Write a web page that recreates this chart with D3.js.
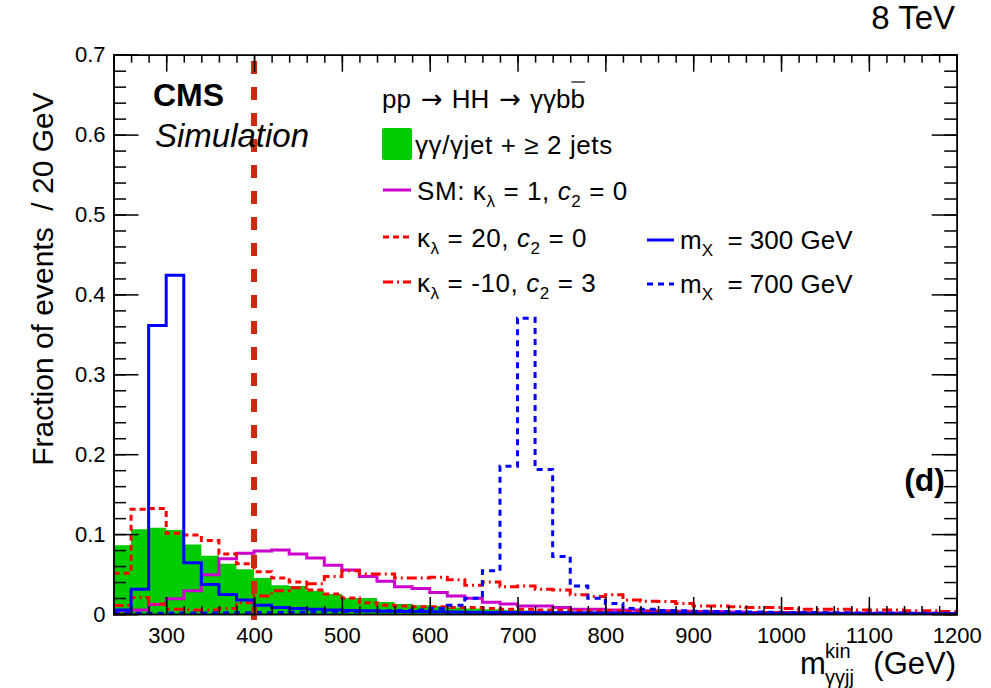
<!DOCTYPE html>
<html lang="en">
<head>
<meta charset="utf-8">
<style type="text/css">
  body { margin: 0; background: #fff; }
  svg text { font-family: "Liberation Sans", Arial, sans-serif; }
  .axis path, .axis line { stroke: #000; stroke-width: 1.5px; }
  .axis text { font-size: 22px; fill: #000; }
  .hist { fill: none; stroke-width: 3px; }
</style>
</head>
<body>
<svg width="991" height="688"></svg>

<script src="https://d3js.org/d3.v7.min.js"></script>
<script type="text/javascript">
// bins of 20 GeV from 240 to 1200
var binLow = d3.range(240, 1200, 20);

var bkg = [0.086, 0.106, 0.108, 0.105, 0.087, 0.073, 0.063, 0.056, 0.045, 0.036,
  0.035, 0.029, 0.025, 0.020, 0.020, 0.015, 0.0125, 0.011, 0.010, 0.008,
  0.007, 0.006, 0.005, 0.0045, 0.004, 0.0035, 0.003, 0.003, 0.0025, 0.002,
  0.002, 0.0018, 0.0015, 0.0014, 0.0012, 0.001, 0.001, 0.0009, 0.0008, 0.0007,
  0.0006, 0.0006, 0.0005, 0.0005, 0.0004, 0.0004, 0.0003, 0.0003];

var sm = [0.004, 0.005, 0.012, 0.019, 0.029, 0.049, 0.069, 0.076, 0.079, 0.080,
  0.075, 0.070, 0.061, 0.055, 0.047, 0.041, 0.034, 0.032, 0.027, 0.0225,
  0.0196, 0.0146, 0.0125, 0.010, 0.010, 0.008, 0.006, 0.006, 0.005, 0.005,
  0.004, 0.004, 0.0035, 0.003, 0.003, 0.0025, 0.002, 0.002, 0.0015, 0.0015,
  0.0012, 0.001, 0.001, 0.0008, 0.0008, 0.0006, 0.0006, 0.0005];

var kl20 = [0.051, 0.131, 0.132, 0.101, 0.099, 0.092, 0.075, 0.063, 0.053, 0.045,
  0.040, 0.030, 0.025, 0.020, 0.014, 0.011, 0.010, 0.009, 0.009, 0.008,
  0.008, 0.007, 0.006, 0.006, 0.005, 0.005, 0.004, 0.004, 0.004, 0.003,
  0.003, 0.003, 0.0025, 0.0025, 0.002, 0.002, 0.002, 0.0018, 0.0015, 0.0015,
  0.0012, 0.0012, 0.001, 0.001, 0.001, 0.0008, 0.0008, 0.0006];

var klm10 = [0.0105, 0.0205, 0.0125, 0.006, 0.005, 0.005, 0.007, 0.014, 0.0225, 0.029,
  0.033, 0.038, 0.047, 0.054, 0.050, 0.050, 0.045, 0.045, 0.046, 0.043,
  0.036, 0.040, 0.034, 0.035, 0.031, 0.030, 0.024, 0.022, 0.024, 0.0175,
  0.016, 0.0155, 0.013, 0.010, 0.010, 0.009, 0.008, 0.008, 0.007, 0.006,
  0.006, 0.006, 0.005, 0.005, 0.005, 0.004, 0.004, 0.003];

var mx300 = [0.005, 0.031, 0.361, 0.424, 0.064, 0.037, 0.0245, 0.0175, 0.011, 0.008,
  0.007, 0.006, 0.005, 0.0045, 0.004, 0.0035, 0.003, 0.003, 0.0028, 0.0025,
  0.0022, 0.002, 0.002, 0.0018, 0.0016, 0.0015, 0.0014, 0.0012, 0.0012, 0.001,
  0.001, 0.0009, 0.0009, 0.0008, 0.0008, 0.0007, 0.0007, 0.0006, 0.0006, 0.0005,
  0.0005, 0.0005, 0.0004, 0.0004, 0.0004, 0.0003, 0.0003, 0.0003];

var mx700 = [0.001, 0.001, 0.001, 0.0012, 0.0012, 0.0014, 0.0015, 0.0016, 0.0018, 0.002,
  0.0022, 0.0025, 0.0028, 0.003, 0.0035, 0.004, 0.0045, 0.005, 0.007, 0.011,
  0.0196, 0.054, 0.185, 0.370, 0.181, 0.072, 0.035, 0.0196, 0.013, 0.007,
  0.006, 0.0045, 0.004, 0.0035, 0.003, 0.0028, 0.0025, 0.0022, 0.002, 0.0018,
  0.0016, 0.0015, 0.0014, 0.0012, 0.0012, 0.001, 0.001, 0.0009];

var xMajor = d3.range(300, 1201, 100);
var yMajor = [0, 0.1, 0.2, 0.3, 0.4, 0.5, 0.6, 0.7];
var cutValue = 400;

var svg = d3.select("svg");
var pLeft = 113.5, pRight = 956.7, pTop = 54.7, pBottom = 614;

var x = d3.scaleLinear().domain([240, 1200]).range([pLeft, pRight]);
var y = d3.scaleLinear().domain([0, 0.7]).range([pBottom, pTop]);

svg.append("clipPath").attr("id", "plot")
  .append("rect").attr("x", pLeft).attr("y", pTop)
  .attr("width", pRight - pLeft).attr("height", pBottom - pTop);

function steps(vals) {
  var pts = vals.map(function(v, i) { return [binLow[i], v]; });
  pts.push([1200, vals[vals.length - 1]]);
  return pts;
}

var line = d3.line().curve(d3.curveStepAfter)
  .x(function(d) { return x(d[0]); })
  .y(function(d) { return y(d[1]); });

var area = d3.area().curve(d3.curveStepAfter)
  .x(function(d) { return x(d[0]); })
  .y0(y(0))
  .y1(function(d) { return y(d[1]); });

var g = svg.append("g").attr("clip-path", "url(#plot)");

g.append("path").attr("d", area(steps(bkg))).attr("fill", "#00cc00");

var series = [
  { vals: sm, color: "#cc00cc", dash: null },
  { vals: kl20, color: "#ff0000", dash: "6,4" },
  { vals: klm10, color: "#ff0000", dash: "10,4,2,4" },
  { vals: mx300, color: "#0000ff", dash: null },
  { vals: mx700, color: "#0000ff", dash: "6,5" }
];

series.forEach(function(s) {
  g.append("path").attr("class", "hist")
    .attr("d", line(steps(s.vals)))
    .attr("stroke", s.color)
    .attr("stroke-dasharray", s.dash);
});

// cut line at 400 GeV
svg.append("line")
  .attr("x1", x(cutValue)).attr("x2", x(cutValue))
  .attr("y1", pBottom + 6).attr("y2", pTop)
  .attr("stroke", "#cc2a10").attr("stroke-width", 6)
  .attr("stroke-dasharray", "13,13");

// axes, ROOT style: ticks inside on all four sides
var xMinor = d3.range(240, 1201, 20);
var yMinor = d3.range(0, 0.7001, 0.02);

function ax(el) {
  el.attr("font-family", null).attr("font-size", null);
}

svg.append("g").attr("class", "axis").attr("transform", "translate(0," + pBottom + ")")
  .call(d3.axisBottom(x).tickValues(xMinor).tickSize(-8).tickFormat("")).call(ax);
svg.append("g").attr("class", "axis").attr("transform", "translate(0," + pBottom + ")")
  .call(d3.axisBottom(x).tickValues(xMajor).tickSize(-17).tickPadding(13).tickFormat(d3.format("d"))).call(ax);
svg.append("g").attr("class", "axis").attr("transform", "translate(0," + pTop + ")")
  .call(d3.axisTop(x).tickValues(xMinor).tickSize(-8).tickFormat("")).call(ax);
svg.append("g").attr("class", "axis").attr("transform", "translate(0," + pTop + ")")
  .call(d3.axisTop(x).tickValues(xMajor).tickSize(-17).tickFormat("")).call(ax);

svg.append("g").attr("class", "axis").attr("transform", "translate(" + pLeft + ",0)")
  .call(d3.axisLeft(y).tickValues(yMinor).tickSize(-12.5).tickFormat("")).call(ax);
svg.append("g").attr("class", "axis").attr("transform", "translate(" + pLeft + ",0)")
  .call(d3.axisLeft(y).tickValues(yMajor).tickSize(-25).tickPadding(8)
    .tickFormat(function(d) { return d === 0 ? "0" : d.toFixed(1); })).call(ax);
svg.append("g").attr("class", "axis").attr("transform", "translate(" + pRight + ",0)")
  .call(d3.axisRight(y).tickValues(yMinor).tickSize(-12.5).tickFormat("")).call(ax);
svg.append("g").attr("class", "axis").attr("transform", "translate(" + pRight + ",0)")
  .call(d3.axisRight(y).tickValues(yMajor).tickSize(-25).tickFormat("")).call(ax);

// titles
svg.append("text").attr("x", 955).attr("y", 29).attr("text-anchor", "end")
  .attr("font-size", 33).text("8 TeV");

svg.append("text").attr("transform", "translate(53,279) rotate(-90)")
  .attr("text-anchor", "middle").attr("font-size", 30)
  .attr("xml:space", "preserve").text("Fraction of events  / 20 GeV");

var xt = svg.append("g").attr("font-size", 31);
xt.append("text").attr("x", 800).attr("y", 674).text("m");
xt.append("text").attr("x", 825).attr("y", 658).attr("font-size", 20).text("kin");
xt.append("text").attr("x", 825).attr("y", 684).attr("font-size", 20).text("γγjj");
xt.append("text").attr("x", 956).attr("y", 674).attr("text-anchor", "end").text("(GeV)");

svg.append("text").attr("x", 153).attr("y", 106).attr("font-size", 32)
  .attr("font-weight", "bold").text("CMS");
svg.append("text").attr("x", 155).attr("y", 147).attr("font-size", 33)
  .attr("font-style", "italic").text("Simulation");
svg.append("text").attr("x", 945).attr("y", 491).attr("text-anchor", "end")
  .attr("font-size", 32).attr("font-weight", "bold").text("(d)");

// legend
var leg = svg.append("g").attr("font-size", 26);

var proc = leg.append("text").attr("x", 382).attr("y", 108);
proc.append("tspan").text("pp");
proc.append("tspan").attr("dx", 10).attr("font-family", "DejaVu Sans").text("\u2192");
proc.append("tspan").attr("dx", 9).text("HH");
proc.append("tspan").attr("dx", 10).attr("font-family", "DejaVu Sans").text("\u2192");
proc.append("tspan").attr("dx", 9).text("\u03b3\u03b3b");
var lastB = proc.append("tspan").text("b");
var bb = lastB.node().getBBox();
leg.append("line").attr("x1", bb.x + 1).attr("x2", bb.x + bb.width).attr("y1", 82).attr("y2", 82)
  .attr("stroke", "#000").attr("stroke-width", 1.2);

leg.append("rect").attr("x", 382).attr("y", 128).attr("width", 30).attr("height", 32)
  .attr("rx", 2).attr("fill", "#00cc00");
leg.append("text").attr("x", 415).attr("y", 154).attr("xml:space", "preserve")
  .attr("letter-spacing", 0.6)
  .text("\u03b3\u03b3/\u03b3jet + \u2265 2 jets");

function kappaText(t, kval, cval) {
  t.append("tspan").text("\u03ba");
  t.append("tspan").attr("font-size", 17).attr("dy", 7).text("\u03bb");
  t.append("tspan").attr("dy", -7).text(" = " + kval + ", ");
  t.append("tspan").attr("font-style", "italic").text("c");
  t.append("tspan").attr("font-size", 17).attr("dy", 7).text("2");
  t.append("tspan").attr("dy", -7).text(" = " + cval);
}

var rows = [
  { y: 190, color: "#cc00cc", dash: null, pre: "SM: ", k: "1", c: "0" },
  { y: 237, color: "#ff0000", dash: "6,4", pre: "", k: "20", c: "0" },
  { y: 282, color: "#ff0000", dash: "10,4,2,4", pre: "", k: "-10", c: "3" }
];
rows.forEach(function(r) {
  leg.append("line").attr("x1", 383).attr("x2", 411).attr("y1", r.y).attr("y2", r.y)
    .attr("stroke", r.color).attr("stroke-width", 3).attr("stroke-dasharray", r.dash);
  var t = leg.append("text").attr("x", 417).attr("y", r.y + 10)
    .attr("xml:space", "preserve").attr("letter-spacing", 0.6);
  if (r.pre) t.append("tspan").text(r.pre);
  kappaText(t, r.k, r.c);
});

var rowsR = [
  { y: 240, dash: null, m: "300" },
  { y: 284, dash: "6,5", m: "700" }
];
rowsR.forEach(function(r) {
  leg.append("line").attr("x1", 647).attr("x2", 674).attr("y1", r.y).attr("y2", r.y)
    .attr("stroke", "#0000ff").attr("stroke-width", 3).attr("stroke-dasharray", r.dash);
  var t = leg.append("text").attr("x", 680).attr("y", r.y + 9).attr("xml:space", "preserve");
  t.append("tspan").text("m");
  t.append("tspan").attr("font-size", 17).attr("dy", 7).text("X");
  t.append("tspan").attr("dy", -7).text("  = " + r.m + " GeV");
});
</script>
</body>
</html>
